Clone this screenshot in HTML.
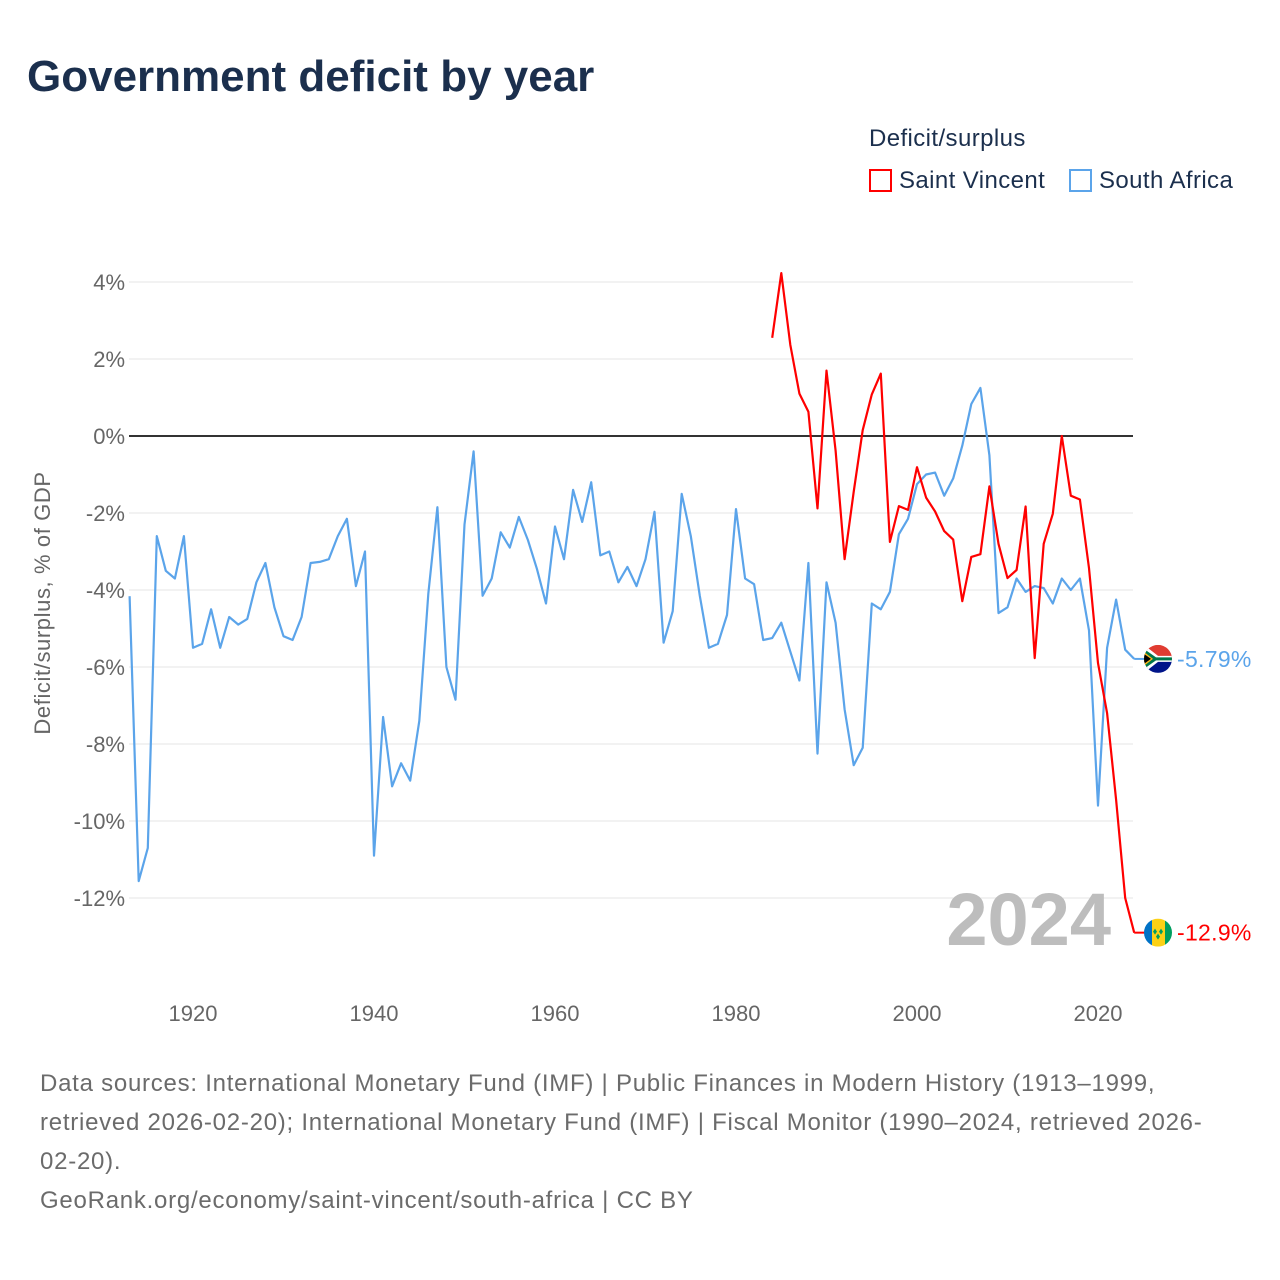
<!DOCTYPE html>
<html><head><meta charset="utf-8"><style>
body{margin:0;background:#fff;font-family:"Liberation Sans",sans-serif;}
#wrap{position:relative;width:1280px;height:1280px;overflow:hidden;background:#fff}
.t{position:absolute;white-space:nowrap}
.f{position:absolute;left:40px;font-size:24px;color:#6b6b6b;white-space:nowrap;letter-spacing:0.75px}
</style></head><body>
<div id="wrap">
<div class="t" style="left:27px;top:52px;font-size:44px;font-weight:bold;color:#1b2f4d">Government deficit by year</div>
<div class="t" style="left:869px;top:125px;font-size:24px;color:#1b2f4d;letter-spacing:0.4px">Deficit/surplus</div>
<div class="t" style="left:869px;top:167px;font-size:24px;color:#1b2f4d;letter-spacing:0.4px"><span style="display:inline-block;width:23px;height:23px;border:2px solid #f00;vertical-align:-4px;margin-right:7px;box-sizing:border-box"></span>Saint Vincent</div>
<div class="t" style="left:1069px;top:167px;font-size:24px;color:#1b2f4d;letter-spacing:0.4px"><span style="display:inline-block;width:23px;height:23px;border:2px solid #5ba4ea;vertical-align:-4px;margin-right:7px;box-sizing:border-box"></span>South Africa</div>
<svg id="chart" width="1280" height="1280" style="position:absolute;left:0;top:0"></svg>
<div>
<div class="f" style="top:1070px">Data sources: International Monetary Fund (IMF) | Public Finances in Modern History (1913–1999,</div>
<div class="f" style="top:1109px">retrieved 2026-02-20); International Monetary Fund (IMF) | Fiscal Monitor (1990–2024, retrieved 2026-</div>
<div class="f" style="top:1148px">02-20).</div>
<div class="f" style="top:1187px">GeoRank.org/economy/saint-vincent/south-africa | CC BY</div>
</div>
</div>
<script>
const saYears0 = 1913;
const saValues = [-4.16,-11.56,-10.7,-2.6,-3.5,-3.7,-2.6,-5.5,-5.4,-4.5,-5.5,-4.7,-4.9,-4.75,-3.8,-3.3,-4.45,-5.2,-5.3,-4.7,-3.3,-3.27,-3.2,-2.6,-2.15,-3.9,-3.0,-10.9,-7.3,-9.1,-8.5,-8.95,-7.4,-4.1,-1.85,-6.0,-6.85,-2.3,-0.4,-4.15,-3.7,-2.5,-2.9,-2.1,-2.7,-3.45,-4.35,-2.35,-3.2,-1.4,-2.23,-1.2,-3.1,-3.0,-3.8,-3.4,-3.9,-3.2,-1.97,-5.37,-4.55,-1.5,-2.6,-4.15,-5.5,-5.4,-4.65,-1.9,-3.7,-3.85,-5.3,-5.25,-4.85,-5.6,-6.35,-3.3,-8.25,-3.8,-4.85,-7.1,-8.55,-8.1,-4.35,-4.5,-4.05,-2.55,-2.15,-1.25,-1.0,-0.95,-1.55,-1.1,-0.25,0.83,1.25,-0.5,-4.6,-4.45,-3.7,-4.05,-3.9,-3.95,-4.35,-3.7,-4.0,-3.7,-5.05,-9.6,-5.5,-4.25,-5.55,-5.79];
const svYears0 = 1984;
const svValues = [2.55,4.23,2.37,1.1,0.63,-1.88,1.7,-0.38,-3.2,-1.45,0.15,1.08,1.62,-2.75,-1.82,-1.92,-0.81,-1.6,-1.96,-2.47,-2.69,-4.29,-3.14,-3.07,-1.31,-2.8,-3.69,-3.48,-1.83,-5.77,-2.8,-2.02,0.0,-1.55,-1.65,-3.43,-5.9,-7.2,-9.45,-12.0,-12.9];
const yTicks = [4,2,0,-2,-4,-6,-8,-10,-12];
const xTicks = [1920,1940,1960,1980,2000,2020];

const NS="http://www.w3.org/2000/svg";
const svg=document.getElementById('chart');
const X=yr=>193+(yr-1920)*9.05;
const Y=v=>436-v*38.5;
function mk(tag,attrs,txt){const e=document.createElementNS(NS,tag);for(const k in attrs)e.setAttribute(k,attrs[k]);if(txt!==undefined)e.textContent=txt;svg.appendChild(e);return e;}
yTicks.forEach(v=>{
  const g=mk('line',{x1:129,x2:1133,y1:Y(v),y2:Y(v),stroke:v===0?'#333':'#e6e6e6','stroke-width':v===0?2:1});
  
  
  const t=mk('text',{x:125,y:Y(v)+8,'text-anchor':'end','font-size':22,fill:'#666','font-family':'Liberation Sans, sans-serif'},v+'%');
  
  
});
xTicks.forEach(yr=>{
  const t=mk('text',{x:X(yr),y:1021,'text-anchor':'middle','font-size':22,fill:'#666','font-family':'Liberation Sans, sans-serif'},yr);
  
  
});
const yt=mk('text',{x:0,y:0,transform:'translate(50,603) rotate(-90)','text-anchor':'middle','font-size':22,fill:'#666','font-family':'Liberation Sans, sans-serif','letter-spacing':'0.6'},'Deficit/surplus, % of GDP');


const yr=mk('text',{x:1111,y:945,'text-anchor':'end','font-size':74,'font-weight':'bold',fill:'#bdbdbd','font-family':'Liberation Sans, sans-serif'},'2024');


function line(vals,y0,color,name){
  const pts=vals.map((v,i)=>X(y0+i).toFixed(1)+','+Y(v).toFixed(1)).join(' ');
  const p=mk('polyline',{points:pts,fill:'none',stroke:color,'stroke-width':2.2,'stroke-linejoin':'round'});
  
  
}
line(saValues,saYears0,'#5ba4ea','series-south-africa');
line(svValues,svYears0,'#ff0000','series-saint-vincent');
function endLabel(vals,y0,color,name,flag){
  const v=vals[vals.length-1];const x=X(y0+vals.length-1);
  const l=mk('line',{x1:x,x2:x+12,y1:Y(v),y2:Y(v),stroke:color,'stroke-width':2});
  
  
  const g=document.createElementNS(NS,'g');svg.appendChild(g);
  
  
  const cx=1158,cy=Y(v);
  g.innerHTML=flag(cx,cy);
  const t=mk('text',{x:1177,y:Y(v)+8,'font-size':23,fill:color,'font-family':'Liberation Sans, sans-serif','letter-spacing':'0.3'},(Math.round(v*100)/100)+'%');
  
  
}
endLabel(saValues,saYears0,'#5ba4ea','south-africa',(cx,cy)=>`<clipPath id="c1"><circle cx="${cx}" cy="${cy}" r="14"/></clipPath><g clip-path="url(#c1)"><rect x="${cx-14}" y="${cy-14}" width="28" height="14" fill="#e03c31"/><rect x="${cx-14}" y="${cy}" width="28" height="14" fill="#001489"/><path d="M${cx-14} ${cy-14}L${cx} ${cy-3}H${cx+14}V${cy+3}H${cx}L${cx-14} ${cy+14}Z" fill="#fff"/><path d="M${cx-14} ${cy-10}L${cx-2} ${cy-1.5}H${cx+14}V${cy+1.5}H${cx-2}L${cx-14} ${cy+10}Z" fill="#007749"/><path d="M${cx-14} ${cy-7}L${cx-5} ${cy}L${cx-14} ${cy+7}Z" fill="#ffb81c"/><path d="M${cx-14} ${cy-5}L${cx-7} ${cy}L${cx-14} ${cy+5}Z" fill="#000"/></g>`);
endLabel(svValues,svYears0,'#ff0000','saint-vincent',(cx,cy)=>`<clipPath id="c2"><circle cx="${cx}" cy="${cy}" r="14"/></clipPath><g clip-path="url(#c2)"><rect x="${cx-14}" y="${cy-14}" width="8" height="28" fill="#0072c6"/><rect x="${cx-6}" y="${cy-14}" width="13" height="28" fill="#fcd116"/><rect x="${cx+7}" y="${cy-14}" width="8" height="28" fill="#009e60"/><path d="M${cx-3} ${cy-4}l2 3-2 3-2-3zM${cx+3} ${cy-4}l2 3-2 3-2-3zM${cx} ${cy+1}l2 3-2 3-2-3z" fill="#009e60"/></g>`);
</script>
</body></html>
